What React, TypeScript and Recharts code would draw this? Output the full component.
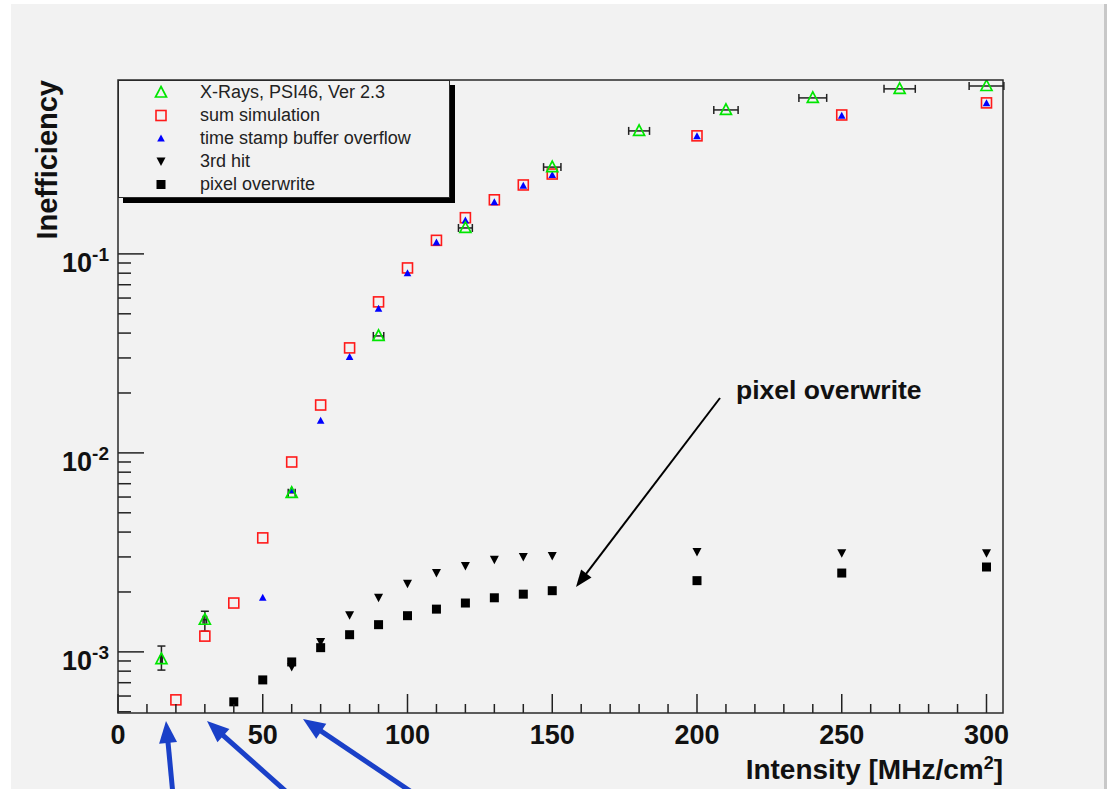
import { ScatterChart, Scatter, XAxis, YAxis, ErrorBar, Legend } from 'recharts';

// X-Rays, PSI46, Ver 2.3 (measurement, with error bars)
const xrayX = [15, 30, 60, 90, 120, 150, 180, 210, 240, 270, 300];
const xrayY = [9.2e-4, 1.45e-3, 6.3e-3, 0.0387, 0.135, 0.273, 0.415, 0.529, 0.608, 0.675, 0.698];
const xrayXErr = [0.3, 0.6, 1.2, 1.8, 2.4, 3.0, 3.6, 4.2, 4.8, 5.4, 6.0];
const xrayYErr = [[1.1e-4, 1.5e-4], [1.8e-4, 1.5e-4], null, null, null, null, null, null, null, null, null];

// sum simulation
const simX = [20, 30, 40, 50, 60, 70, 80, 90, 100, 110, 120, 130, 140, 150, 200, 250, 300];
const simY = [5.74e-4, 1.2e-3, 1.76e-3, 3.74e-3, 9.0e-3, 0.0174, 0.0337, 0.0574, 0.085, 0.117, 0.152, 0.187, 0.222, 0.252, 0.392, 0.499, 0.574];

// time stamp buffer overflow
const tsX = [50, 60, 70, 80, 90, 100, 110, 120, 130, 140, 150, 200, 250, 300];
const tsY = [1.87e-3, 6.5e-3, 0.0145, 0.0303, 0.053, 0.08, 0.114, 0.147, 0.182, 0.22, 0.249, 0.39, 0.495, 0.572];

// 3rd hit
const hitX = [60, 70, 80, 90, 100, 110, 120, 130, 140, 150, 200, 250, 300];
const hitY = [8.4e-4, 1.12e-3, 1.53e-3, 1.87e-3, 2.2e-3, 2.49e-3, 2.7e-3, 2.9e-3, 3.0e-3, 3.03e-3, 3.18e-3, 3.13e-3, 3.13e-3];

// pixel overwrite
const pixX = [40, 50, 60, 70, 80, 90, 100, 110, 120, 130, 140, 150, 200, 250, 300];
const pixY = [5.61e-4, 7.23e-4, 8.9e-4, 1.05e-3, 1.22e-3, 1.37e-3, 1.52e-3, 1.64e-3, 1.76e-3, 1.87e-3, 1.95e-3, 2.03e-3, 2.28e-3, 2.49e-3, 2.67e-3];

const xTicks = [0, 10, 20, 30, 40, 50, 60, 70, 80, 90, 100, 110, 120, 130, 140, 150, 160, 170, 180, 190, 200, 210, 220, 230, 240, 250, 260, 270, 280, 290, 300];
const xMajor = [0, 50, 100, 150, 200, 250, 300];
const yTicks = [5e-4, 6e-4, 7e-4, 8e-4, 9e-4, 1e-3, 2e-3, 3e-3, 4e-3, 5e-3, 6e-3, 7e-3, 8e-3, 9e-3, 1e-2, 2e-2, 3e-2, 4e-2, 5e-2, 6e-2, 7e-2, 8e-2, 9e-2, 0.1, 0.2, 0.3, 0.4, 0.5, 0.6, 0.7];
const yMajor = [1e-3, 1e-2, 1e-1];
const yMajorExp = ['-3', '-2', '-1'];

const FONT = '"Liberation Sans", Arial, Helvetica, sans-serif';
const INK = '#111';
const PANEL = '#f2f2f2';

const xrayData = xrayX.map((x, i) => ({ x, y: xrayY[i], xErr: xrayXErr[i], yErr: xrayYErr[i] }));
const pts = (xs: number[], ys: number[]) => xs.map((x, i) => ({ x, y: ys[i] }));

// marker drawers, shared by the scatter series and the legend
const openTriangle = (cx: number, cy: number) => (
  <polygon points={`${cx},${cy - 6} ${cx + 5.5},${cy + 4.5} ${cx - 5.5},${cy + 4.5}`} fill="none" stroke="#00e600" strokeWidth={1.7} />
);
const openSquare = (cx: number, cy: number) => (
  <rect x={cx - 5} y={cy - 5} width={10} height={10} fill="none" stroke="#ff1a1a" strokeWidth={1.6} />
);
const blueTriangle = (cx: number, cy: number) => (
  <polygon points={`${cx},${cy - 4} ${cx + 3.8},${cy + 3} ${cx - 3.8},${cy + 3}`} fill="#0000ff" />
);
const downTriangle = (cx: number, cy: number) => (
  <polygon points={`${cx - 4.5},${cy - 4} ${cx + 4.5},${cy - 4} ${cx},${cy + 4.5}`} fill="#000" />
);
const blackSquare = (cx: number, cy: number) => (
  <rect x={cx - 4.5} y={cy - 4.5} width={9} height={9} fill="#000" />
);

const legendItems = [
  { label: 'X-Rays, PSI46, Ver 2.3', marker: openTriangle },
  { label: 'sum simulation', marker: openSquare },
  { label: 'time stamp buffer overflow', marker: blueTriangle },
  { label: '3rd hit', marker: downTriangle },
  { label: 'pixel overwrite', marker: blackSquare },
];

function LegendBox() {
  return (
    <div
      style={{
        width: 332,
        height: 118,
        boxSizing: 'border-box',
        border: '1.5px solid #2a2a2a',
        background: PANEL,
        boxShadow: '5px 5px 0 #000',
        fontFamily: FONT,
        fontSize: 18,
        color: '#222',
        position: 'relative',
      }}
    >
      {legendItems.map((it, i) => (
        <div key={it.label} style={{ position: 'absolute', left: 0, top: i * 23, height: 23, width: 330 }}>
          <svg width={60} height={23} style={{ position: 'absolute', left: 12, top: 0 }}>
            {it.marker(30, 11.5)}
          </svg>
          <span style={{ position: 'absolute', left: 81, top: 0, lineHeight: '22px', whiteSpace: 'nowrap' }}>{it.label}</span>
        </div>
      ))}
    </div>
  );
}

function XTick({ x, y, payload }: any) {
  const major = xMajor.includes(payload.value);
  return (
    <g>
      <line x1={x} y1={y} x2={x} y2={y - (major ? 19 : 9)} stroke="#222" strokeWidth={1.5} />
      {major && (
        <text x={x} y={y + 31} textAnchor="middle" fontFamily={FONT} fontWeight="bold" fontSize={27} fill={INK}>
          {payload.value}
        </text>
      )}
    </g>
  );
}

function YTick({ x, y, payload }: any) {
  const idx = yMajor.findIndex((v) => Math.abs(v - payload.value) / v < 1e-6);
  const major = idx >= 0;
  return (
    <g>
      <line x1={x} y1={y} x2={x + (major ? 26 : 13)} y2={y} stroke="#222" strokeWidth={1.5} />
      {major && (
        <text x={x - 9} y={y + 18} textAnchor="end" fontFamily={FONT} fontWeight="bold" fontSize={27} fill={INK}>
          <tspan>10</tspan>
          <tspan dy={-11} fontSize={19}>{yMajorExp[idx]}</tspan>
        </text>
      )}
    </g>
  );
}

function Arrow({ x1, y1, x2, y2, color, w, hl, hw }: any) {
  const dx = x2 - x1;
  const dy = y2 - y1;
  const L = Math.hypot(dx, dy);
  const ux = dx / L;
  const uy = dy / L;
  const bx = x2 - ux * hl;
  const by = y2 - uy * hl;
  const px = -uy;
  const py = ux;
  return (
    <g>
      <line x1={x1} y1={y1} x2={bx + ux * 2} y2={by + uy * 2} stroke={color} strokeWidth={w} />
      <polygon points={`${x2},${y2} ${bx + (px * hw) / 2},${by + (py * hw) / 2} ${bx - (px * hw) / 2},${by - (py * hw) / 2}`} fill={color} />
    </g>
  );
}

export default function App() {
  return (
    <div style={{ position: 'absolute', left: 0, top: 0, width: 1115, height: 789, background: '#fff', overflow: 'hidden' }}>
      <div style={{ position: 'absolute', left: 11, top: 4, width: 1093, height: 785, background: PANEL, borderRight: '3px solid #c8c8c8' }} />
      <div style={{ position: 'absolute', left: 0, top: 0 }}>
        <ScatterChart width={1115} height={789} margin={{ top: 80, right: 112, bottom: 0, left: 0 }}>
          <XAxis
            type="number"
            dataKey="x"
            domain={[0, 305.7]}
            allowDataOverflow
            ticks={xTicks}
            interval={0}
            height={76}
            tickSize={0}
            tickMargin={0}
            axisLine={false}
            tickLine={false}
            tick={<XTick />}
          />
          <YAxis
            type="number"
            dataKey="y"
            scale="log"
            domain={[4.93e-4, 0.748]}
            allowDataOverflow
            ticks={yTicks}
            interval={0}
            width={118}
            tickSize={0}
            tickMargin={0}
            axisLine={false}
            tickLine={false}
            tick={<YTick />}
          />
          <Legend
            layout="horizontal"
            verticalAlign="middle"
            align="center"
            wrapperStyle={{ left: 118, top: 80, width: 332, height: 118 }}
            content={() => <LegendBox />}
          />
          <Scatter name="sum simulation" data={pts(simX, simY)} isAnimationActive={false} shape={(p: any) => openSquare(p.cx, p.cy)} />
          <Scatter name="time stamp buffer overflow" data={pts(tsX, tsY)} isAnimationActive={false} shape={(p: any) => blueTriangle(p.cx, p.cy)} />
          <Scatter name="pixel overwrite" data={pts(pixX, pixY)} isAnimationActive={false} shape={(p: any) => blackSquare(p.cx, p.cy)} />
          <Scatter name="3rd hit" data={pts(hitX, hitY)} isAnimationActive={false} shape={(p: any) => downTriangle(p.cx, p.cy)} />
          <Scatter name="X-Rays, PSI46, Ver 2.3" data={xrayData} isAnimationActive={false} shape={(p: any) => openTriangle(p.cx, p.cy)}>
            <ErrorBar dataKey="xErr" direction="x" width={4} stroke="#222" strokeWidth={1.5} isAnimationActive={false} />
            <ErrorBar dataKey="yErr" direction="y" width={4} stroke="#222" strokeWidth={1.5} isAnimationActive={false} />
          </Scatter>
        </ScatterChart>
      </div>
      <svg width={1115} height={789} style={{ position: 'absolute', left: 0, top: 0, pointerEvents: 'none' }}>
        <rect x={118} y={80} width={885} height={633} fill="none" stroke="#2a2a2a" strokeWidth={1.5} />
        <text transform="translate(57,80) rotate(-90)" textAnchor="end" fontFamily={FONT} fontWeight="bold" fontSize={29} fill={INK}>
          Inefficiency
        </text>
        <text x={1003} y={779} textAnchor="end" fontFamily={FONT} fontWeight="bold" fontSize={28} fill={INK}>
          <tspan>Intensity [MHz/cm</tspan>
          <tspan dy={-10} fontSize={18}>2</tspan>
          <tspan dy={10}>]</tspan>
        </text>
        <text x={736} y={399} fontFamily={FONT} fontWeight="bold" fontSize={26.5} fill={INK}>
          pixel overwrite
        </text>
        <Arrow x1={720} y1={398} x2={576} y2={587} color="#000" w={2} hl={17} hw={13} />
        <Arrow x1={173} y1={795} x2={166} y2={721} color="#1a40c8" w={5} hl={22} hw={18} />
        <Arrow x1={290} y1={795} x2={207} y2={721} color="#1a40c8" w={5} hl={22} hw={18} />
        <Arrow x1={416} y1={795} x2={303} y2={719} color="#1a40c8" w={5} hl={22} hw={18} />
      </svg>
    </div>
  );
}
